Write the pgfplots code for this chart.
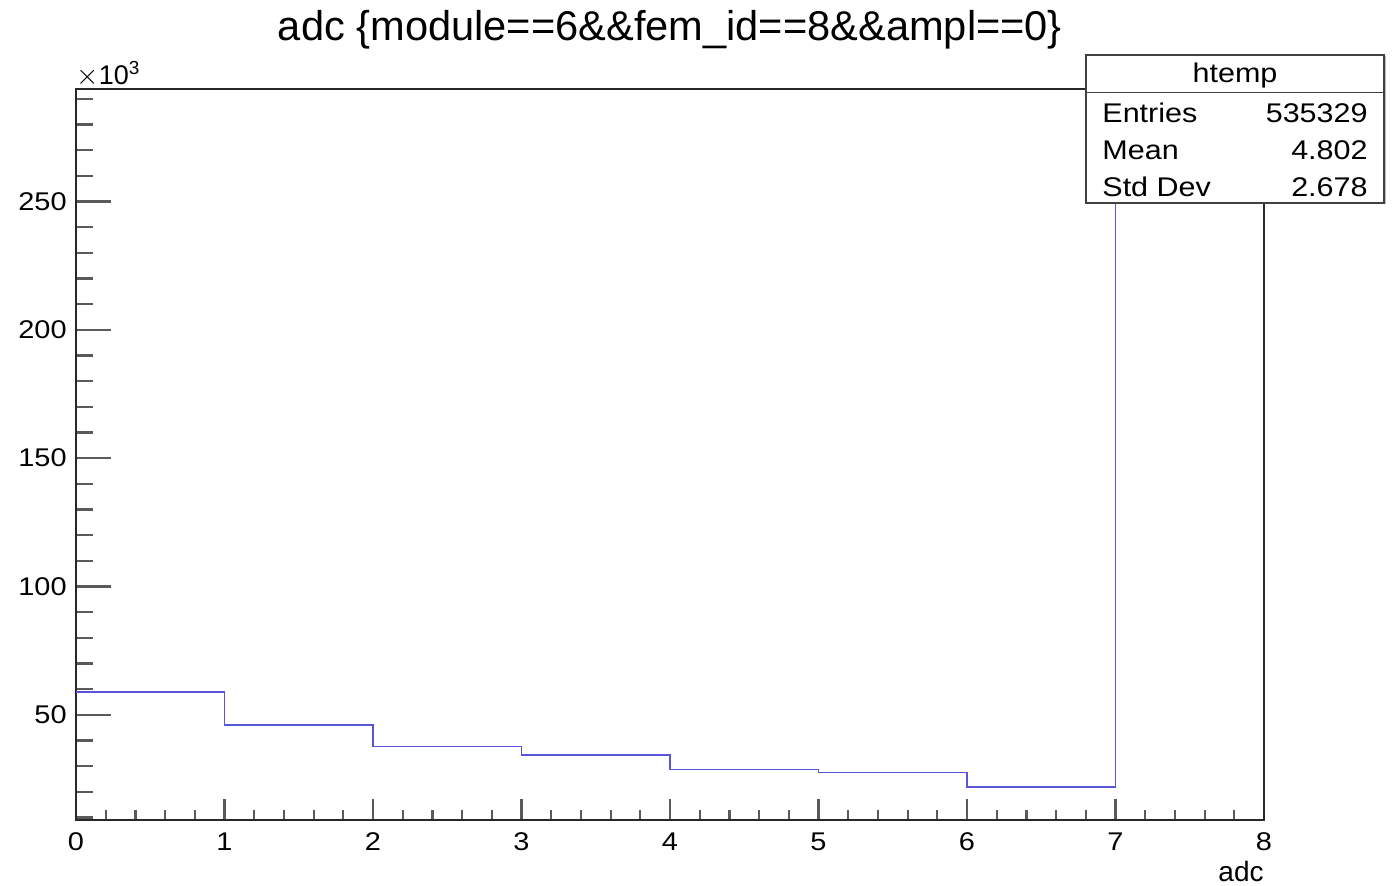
\documentclass[border=0pt]{standalone}
\usepackage{pgfplots}
\pgfplotsset{compat=1.18}
\usepackage{fontspec}
\setmainfont{Liberation Sans}
\newfontfamily\widefont[FakeStretch=1.13]{Liberation Sans}
\definecolor{rootblue}{RGB}{89,84,217}
\definecolor{axgray}{RGB}{40,40,40}
\definecolor{tkgray}{RGB}{90,90,90}
\begin{document}
\begin{tikzpicture}
\begin{axis}[
  name=ax,
  at={(0,0)}, anchor=south west,
  scale only axis,
  width=594pt, height=365.5pt,
  xmin=0, xmax=8, ymin=9000, ymax=293800,
  axis line style={axgray, line width=1pt},
  tick align=inside,
  xtick pos=lower, ytick pos=left,
  xtick={0,1,...,8},
  minor x tick num=4,
  ytick={50000,100000,150000,200000,250000},
  yticklabels={50,100,150,200,250},
  minor ytick={10000,20000,30000,40000,60000,70000,80000,90000,110000,120000,130000,140000,160000,170000,180000,190000,210000,220000,230000,240000,260000,270000,280000,290000},
  scaled y ticks=false,
  xtick style={tkgray, line width=1.1pt, /pgfplots/major tick length=10.5pt, /pgfplots/minor tick length=5pt},
  ytick style={tkgray, line width=1.1pt, /pgfplots/major tick length=17.5pt, /pgfplots/minor tick length=8.5pt},
  /pgf/number format/assume math mode=true,
  xticklabel style={font=\widefont\fontsize{12.8}{14}\selectfont, inner sep=0pt, anchor=north, yshift=-6pt},
  yticklabel style={font=\widefont\fontsize{12.8}{14}\selectfont, inner sep=0pt, anchor=east, xshift=-4.5pt},
  clip=false,
]
\addplot[const plot mark left, rootblue, line width=0.9pt, mark=none] coordinates {
  (0,58800) (1,46100) (2,37650) (3,34300) (4,28700) (5,27500) (6,21950) (7,280300) (8,280300)
};
\end{axis}
% title
\node[anchor=base, font=\fontsize{20.8}{24}\selectfont] at (297pt,389.5pt) {adc \{module==6\&\&fem\_id==8\&\&ampl==0\}};
% multiplier
\node[anchor=base west, inner sep=0pt, font=\fontsize{13.5}{15}\selectfont] at (0pt,367.5pt) {$\times$10\textsuperscript{3}};
% x label
\node[anchor=base east, inner sep=0pt, font=\fontsize{14}{16}\selectfont] at (594pt,-31pt) {adc};
% stats box
\fill[black!25] (505.8pt,307.8pt) rectangle (654.8pt,381.8pt);
\draw[fill=white, draw=black!75, line width=0.7pt] (505pt,308.5pt) rectangle (654pt,382.5pt);
\draw[black!75, line width=0.7pt] (505pt,363.6pt) -- (654pt,363.6pt);
\node[anchor=base, inner sep=0pt, font=\widefont\fontsize{13.5}{16}\selectfont] at (579.5pt,368.7pt) {htemp};
\node[anchor=base west, inner sep=0pt, font=\widefont\fontsize{13.5}{16}\selectfont] at (513pt,348.7pt) {Entries};
\node[anchor=base east, inner sep=0pt, font=\widefont\fontsize{13.5}{16}\selectfont] at (646pt,348.7pt) {535329};
\node[anchor=base west, inner sep=0pt, font=\widefont\fontsize{13.5}{16}\selectfont] at (513pt,330pt) {Mean};
\node[anchor=base east, inner sep=0pt, font=\widefont\fontsize{13.5}{16}\selectfont] at (646pt,330pt) {4.802};
\node[anchor=base west, inner sep=0pt, font=\widefont\fontsize{13.5}{16}\selectfont] at (513pt,311.75pt) {Std Dev};
\node[anchor=base east, inner sep=0pt, font=\widefont\fontsize{13.5}{16}\selectfont] at (646pt,311.75pt) {2.678};
\pgfresetboundingbox
\path (-38pt,-33pt) rectangle (660.5pt,410pt);
\end{tikzpicture}
\end{document}
